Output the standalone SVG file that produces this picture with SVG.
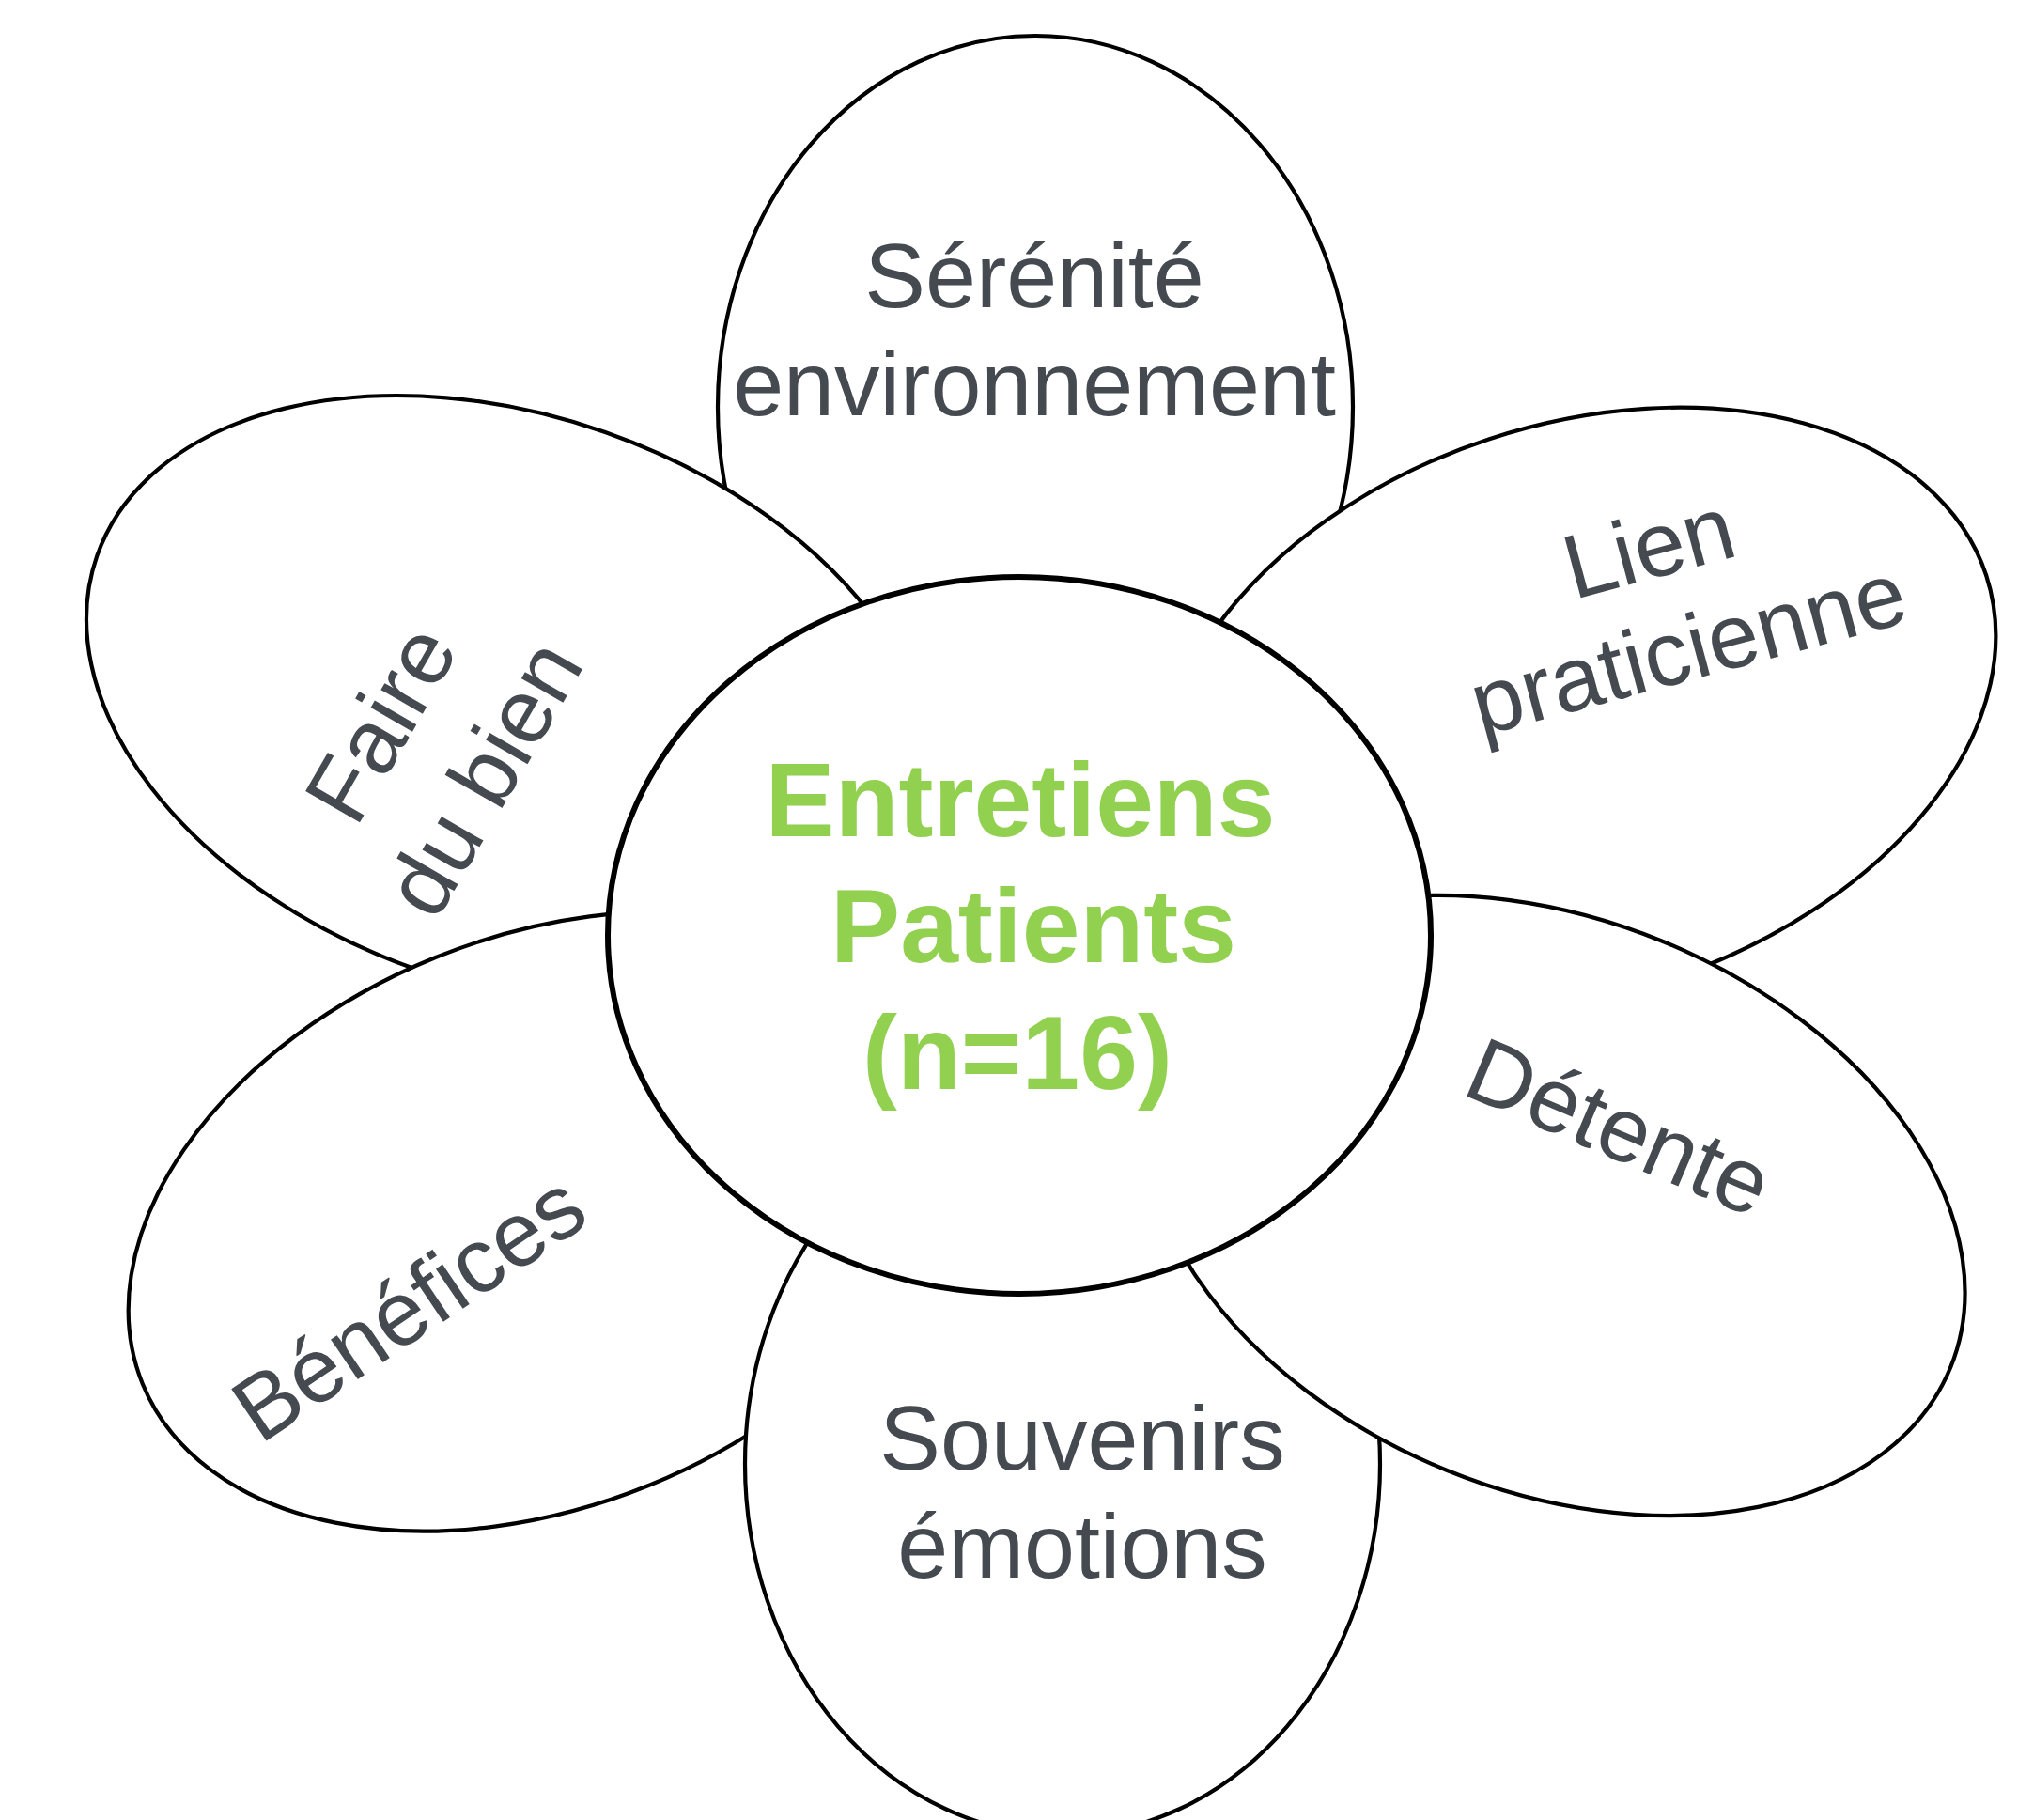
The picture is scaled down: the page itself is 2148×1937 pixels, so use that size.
<svg xmlns="http://www.w3.org/2000/svg" width="2148" height="1937" viewBox="0 0 2148 1937">
<style>
.petal{fill:#ffffff;stroke:#000000;stroke-width:4.2}
.core{fill:#ffffff;stroke:#000000;stroke-width:6}
.lbl{font-family:"Liberation Sans",Arial,sans-serif;font-size:97px;fill:#454a51;text-anchor:middle}
.clbl{font-family:"Liberation Sans",Arial,sans-serif;font-size:111px;font-weight:bold;fill:#92d050;text-anchor:middle}
</style>
<rect width="2148" height="1937" fill="#ffffff"/>
<g id="connectors"/>
<g id="petal-serenite">
<ellipse class="petal" cx="1102" cy="433" rx="338" ry="395"/>
<text class="lbl" x="1101" y="327">Sérénité</text>
<text class="lbl" x="1101" y="442">environnement</text>
</g>
<g id="petal-lien">
<ellipse class="petal" cx="0" cy="0" rx="457" ry="303" transform="translate(1680,755) rotate(-18.2)"/>
<text class="lbl" y="35" transform="translate(1754.5,580.7) rotate(-15)">Lien</text>
<text class="lbl" y="25" transform="translate(1799,698) rotate(-15)">praticienne</text>
</g>
<g id="petal-faire">
<ellipse class="petal" cx="0" cy="0" rx="467" ry="303" transform="translate(544,746) rotate(19.3)"/>
<text class="lbl" y="35" transform="translate(404,769) rotate(-60)">Faire</text>
<text class="lbl" y="35" transform="translate(513,827) rotate(-60)">du bien</text>
</g>
<g id="petal-benefices">
<ellipse class="petal" cx="0" cy="0" rx="459" ry="303" transform="translate(577,1300) rotate(-22.1)"/>
<text class="lbl" y="35" transform="translate(434,1390) rotate(-34)">Bénéfices</text>
</g>
<g id="petal-souvenirs">
<ellipse class="petal" cx="1131" cy="1558" rx="338" ry="395"/>
<text class="lbl" x="1152" y="1564">Souvenirs</text>
<text class="lbl" x="1152" y="1679">émotions</text>
</g>
<g id="petal-detente">
<ellipse class="petal" cx="0" cy="0" rx="456" ry="304" transform="translate(1654,1283) rotate(22.2)"/>
<text class="lbl" y="35" transform="translate(1724,1198) rotate(23)">Détente</text>
</g>
<g id="center">
<ellipse class="core" cx="1085" cy="995.5" rx="438" ry="381.5"/>
<text class="clbl" x="1086" y="890">Entretiens</text>
<text class="clbl" x="1100" y="1024">Patients</text>
<text class="clbl" x="1083" y="1159">(n=16)</text>
</g>
</svg>
